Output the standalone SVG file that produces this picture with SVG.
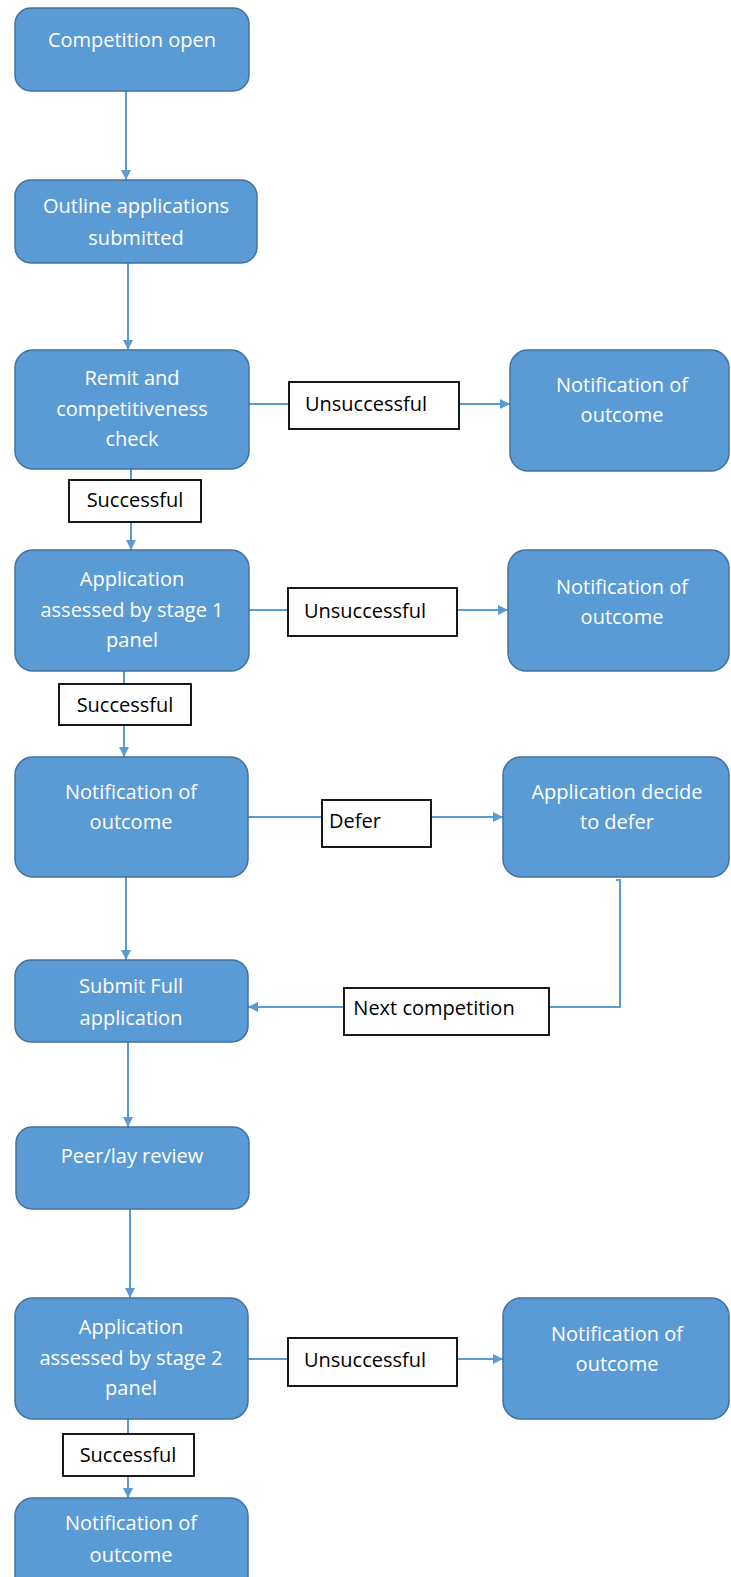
<svg xmlns="http://www.w3.org/2000/svg" width="731" height="1577" viewBox="0 0 731 1577">
<defs>
<style>
.node rect{fill:#5B9BD5;stroke:#41719C;stroke-width:1.5}
.node text{fill:#fff;font-family:"Open Sans","Noto Sans",sans-serif;font-size:20px;text-anchor:middle}
.lbl rect{fill:#fff;stroke:#000;stroke-width:1.8}
.lbl text{fill:#000;font-family:"Open Sans","Noto Sans",sans-serif;font-size:20px;text-anchor:middle}
.conn path{fill:none;stroke:#5B9BD5;stroke-width:2}
</style>
<marker id="ah" viewBox="0 0 10 10" refX="10" refY="5" markerWidth="5" markerHeight="5" orient="auto" markerUnits="strokeWidth">
<path d="M0,0 L10,5 L0,10 z" fill="#5B9BD5"/>
</marker>
</defs>
<rect width="731" height="1577" fill="#fff"/>

<g id="connectors" class="conn">
<path d="M126,91 V180" marker-end="url(#ah)"/>
<path d="M128,263 V350" marker-end="url(#ah)"/>
<path d="M249,404 H289"/>
<path d="M459,404 H510" marker-end="url(#ah)"/>
<path d="M131,469 V480"/>
<path d="M131,522 V550" marker-end="url(#ah)"/>
<path d="M249,610 H288"/>
<path d="M457,610 H508" marker-end="url(#ah)"/>
<path d="M124,671 V684"/>
<path d="M124,725 V757" marker-end="url(#ah)"/>
<path d="M248,817 H322"/>
<path d="M431,817 H503" marker-end="url(#ah)"/>
<path d="M126,877 V960" marker-end="url(#ah)"/>
<path d="M616,880 H620 V1007 H549"/>
<path d="M344,1007 H248" marker-end="url(#ah)"/>
<path d="M128,1042 V1127" marker-end="url(#ah)"/>
<path d="M130,1209 V1298" marker-end="url(#ah)"/>
<path d="M248,1359 H288"/>
<path d="M457,1359 H503" marker-end="url(#ah)"/>
<path d="M128,1419 V1434"/>
<path d="M128,1476 V1498" marker-end="url(#ah)"/>
</g>

<g id="n1" class="node"><rect x="15" y="8" width="234" height="83" rx="16"/><text x="132" y="47">Competition open</text></g>
<g id="n2" class="node"><rect x="15" y="180" width="242" height="83" rx="16"/><text x="136" y="213">Outline applications</text><text x="136" y="245">submitted</text></g>
<g id="n3" class="node"><rect x="15" y="350" width="234" height="119" rx="18"/><text x="132" y="385">Remit and</text><text x="132" y="416">competitiveness</text><text x="132" y="446">check</text></g>
<g id="n4" class="node"><rect x="510" y="350" width="219" height="121" rx="18"/><text x="622" y="392">Notification of</text><text x="622" y="422">outcome</text></g>
<g id="n5" class="node"><rect x="15" y="550" width="234" height="121" rx="18"/><text x="132" y="586">Application</text><text x="132" y="617">assessed by stage 1</text><text x="132" y="647">panel</text></g>
<g id="n6" class="node"><rect x="508" y="550" width="221" height="121" rx="18"/><text x="622" y="594">Notification of</text><text x="622" y="624">outcome</text></g>
<g id="n7" class="node"><rect x="15" y="757" width="233" height="120" rx="18"/><text x="131" y="799">Notification of</text><text x="131" y="829">outcome</text></g>
<g id="n8" class="node"><rect x="503" y="757" width="226" height="120" rx="18"/><text x="617" y="799">Application decide</text><text x="617" y="829">to defer</text></g>
<g id="n9" class="node"><rect x="15" y="960" width="233" height="82" rx="16"/><text x="131" y="993">Submit Full</text><text x="131" y="1025">application</text></g>
<g id="n10" class="node"><rect x="16" y="1127" width="233" height="82" rx="16"/><text x="132" y="1163">Peer/lay review</text></g>
<g id="n11" class="node"><rect x="15" y="1298" width="233" height="121" rx="18"/><text x="131" y="1334">Application</text><text x="131" y="1365">assessed by stage 2</text><text x="131" y="1395">panel</text></g>
<g id="n12" class="node"><rect x="503" y="1298" width="226" height="121" rx="18"/><text x="617" y="1341">Notification of</text><text x="617" y="1371">outcome</text></g>
<g id="n13" class="node"><rect x="15" y="1498" width="233" height="100" rx="18"/><text x="131" y="1530">Notification of</text><text x="131" y="1562">outcome</text></g>

<g id="l1" class="lbl"><rect x="289" y="382" width="170" height="47"/><text x="366" y="411">Unsuccessful</text></g>
<g id="l2" class="lbl"><rect x="69" y="480" width="132" height="42"/><text x="135" y="507">Successful</text></g>
<g id="l3" class="lbl"><rect x="288" y="588" width="169" height="48"/><text x="365" y="618">Unsuccessful</text></g>
<g id="l4" class="lbl"><rect x="59" y="684" width="132" height="41"/><text x="125" y="712">Successful</text></g>
<g id="l5" class="lbl"><rect x="322" y="800" width="109" height="47"/><text x="355" y="828">Defer</text></g>
<g id="l6" class="lbl"><rect x="344" y="988" width="205" height="47"/><text x="434" y="1015">Next competition</text></g>
<g id="l7" class="lbl"><rect x="288" y="1338" width="169" height="48"/><text x="365" y="1367">Unsuccessful</text></g>
<g id="l8" class="lbl"><rect x="63" y="1434" width="131" height="42"/><text x="128" y="1462">Successful</text></g>
</svg>
